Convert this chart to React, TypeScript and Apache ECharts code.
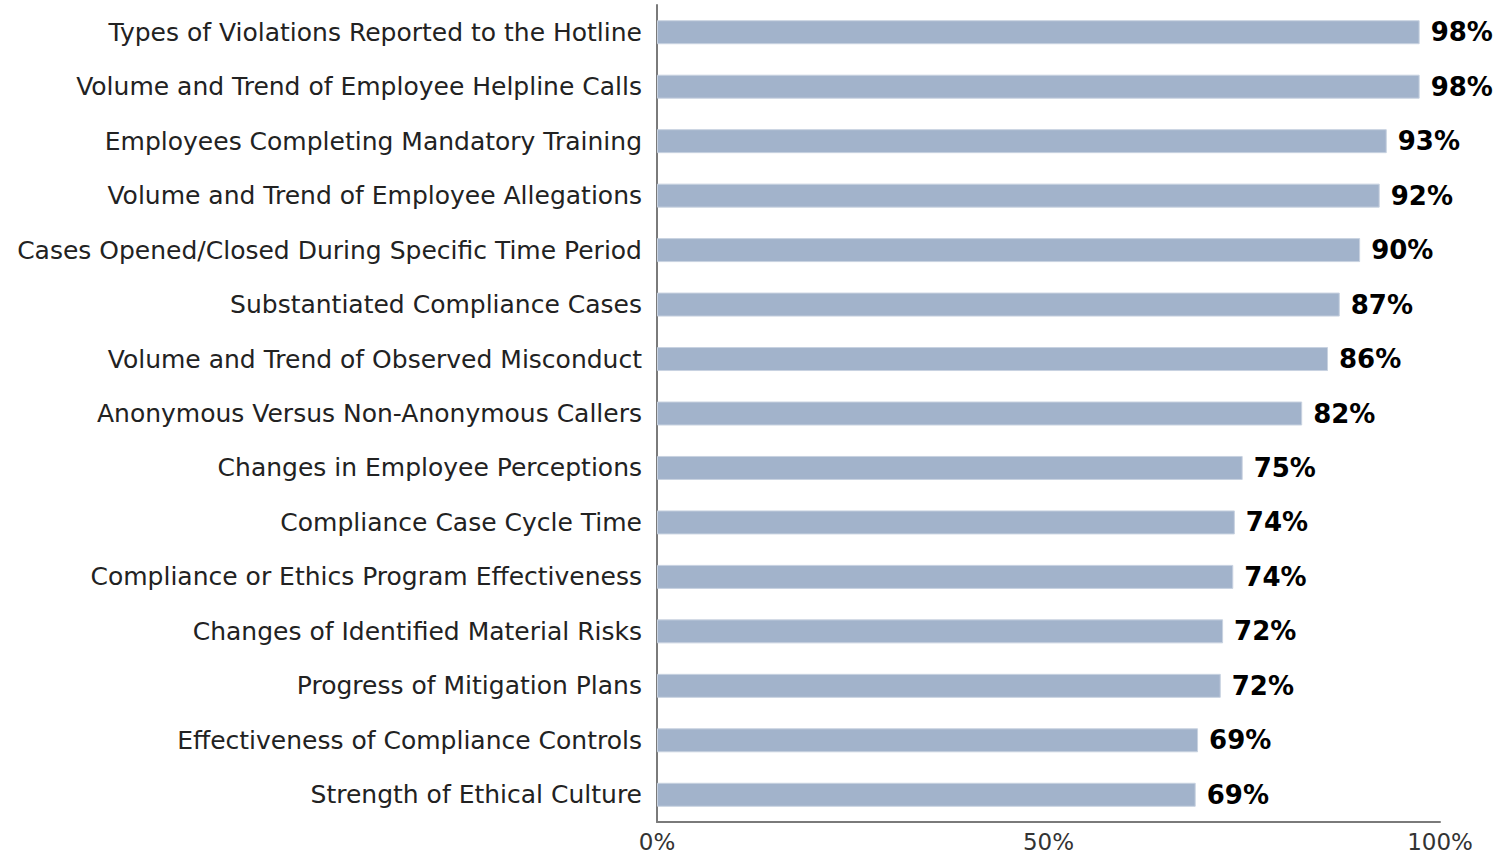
import React, { useEffect, useRef } from "react";
import * as echarts from "echarts";

const categories = [
  "Types of Violations Reported to the Hotline",
  "Volume and Trend of Employee Helpline Calls",
  "Employees Completing Mandatory Training",
  "Volume and Trend of Employee Allegations",
  "Cases Opened/Closed During Specific Time Period",
  "Substantiated Compliance Cases",
  "Volume and Trend of Observed Misconduct",
  "Anonymous Versus Non-Anonymous Callers",
  "Changes in Employee Perceptions",
  "Compliance Case Cycle Time",
  "Compliance or Ethics Program Effectiveness",
  "Changes of Identified Material Risks",
  "Progress of Mitigation Plans",
  "Effectiveness of Compliance Controls",
  "Strength of Ethical Culture",
];

const values = [97.4, 97.4, 93.2, 92.3, 89.8, 87.2, 85.7, 82.4, 74.8, 73.8, 73.6, 72.3, 72.0, 69.1, 68.8];
const valueLabels = ["98%", "98%", "93%", "92%", "90%", "87%", "86%", "82%", "75%", "74%", "74%", "72%", "72%", "69%", "69%"];
const xTicks = [0, 50, 100];

export default function App() {
  const ref = useRef<HTMLDivElement>(null);
  useEffect(() => {
    if (!ref.current) return;
    const chart = echarts.init(ref.current, undefined, { renderer: "svg" });
    chart.setOption({
      animation: false,
      grid: { left: 657, right: 72, top: 5, bottom: 34, containLabel: false },
      xAxis: {
        type: "value",
        min: xTicks[0],
        max: xTicks[xTicks.length - 1],
        interval: 50,
        axisLine: { show: true, lineStyle: { color: "#7a7a7a", width: 2 } },
        axisTick: { show: false },
        splitLine: { show: false },
        axisLabel: {
          formatter: (v: number) => `${v}%`,
          fontFamily: "DejaVu Sans",
          fontSize: 23,
          lineHeight: 24,
          color: "#333",
          margin: 8,
        },
      },
      yAxis: {
        type: "category",
        data: categories,
        inverse: true,
        axisLine: { show: true, lineStyle: { color: "#7a7a7a", width: 2 } },
        axisTick: { show: false },
        axisLabel: {
          fontFamily: "DejaVu Sans",
          fontSize: 25,
          lineHeight: 28,
          padding: [3, 0, 0, 0],
          color: "#222",
          margin: 15,
        },
      },
      series: [
        {
          type: "bar",
          data: values,
          barWidth: 24,
          itemStyle: { color: "#a2b3cb", borderColor: "#c8d2e0", borderWidth: 1 },
          label: {
            show: true,
            position: "right",
            distance: 11,
            formatter: (p: any) => valueLabels[p.dataIndex],
            fontFamily: "DejaVu Sans",
            fontWeight: "bold",
            fontSize: 26,
            color: "#000",
          },
        },
      ],
    });
    return () => chart.dispose();
  }, []);
  return <div ref={ref} style={{ width: 1512, height: 856, position: "absolute", left: 0, top: 0 }} />;
}
